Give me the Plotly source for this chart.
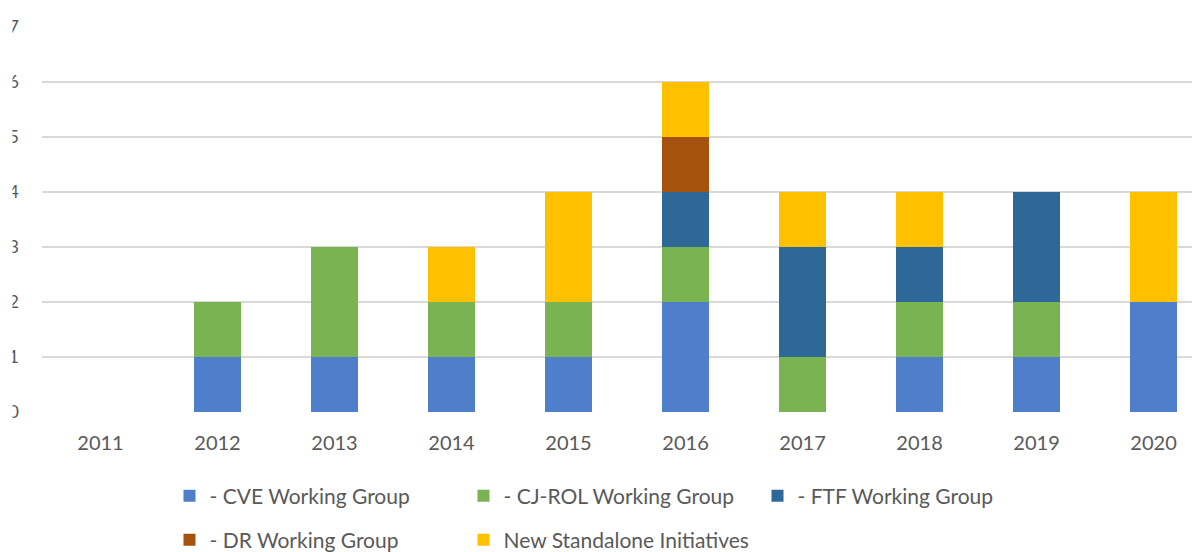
import plotly.graph_objects as go

years = ["2011", "2012", "2013", "2014", "2015", "2016", "2017", "2018", "2019", "2020"]
cve = [0, 1, 1, 1, 1, 2, 0, 1, 1, 2]
cj_rol = [0, 1, 2, 1, 1, 1, 1, 1, 1, 0]
ftf = [0, 0, 0, 0, 0, 1, 2, 1, 2, 0]
dr = [0, 0, 0, 0, 0, 1, 0, 0, 0, 0]
standalone = [0, 0, 0, 1, 2, 1, 1, 1, 0, 2]
y_ticks = [0, 1, 2, 3, 4, 5, 6, 7]

series = [
    ("- CVE Working Group", cve, "#4F7FCA", "legend"),
    ("- CJ-ROL Working Group", cj_rol, "#7AB351", "legend"),
    ("- FTF Working Group", ftf, "#2E6898", "legend"),
    ("- DR Working Group", dr, "#A5520F", "legend2"),
    ("New Standalone Initiatives", standalone, "#FFC000", "legend2"),
]

FONT = "Lato"
GREY = "#595959"

fig = go.Figure()
for name, vals, color, leg in series:
    fig.add_trace(go.Bar(
        x=years, y=vals, name=name, marker=dict(color=color, line=dict(width=0)),
        width=0.4, legend=leg,
    ))

# page body has an 8px margin; figure is sized to end at the window edge
W, H = 1192, 544
ml, mt, mb = 34, 19, 140
PW = W - ml

fig.update_layout(
    width=W, height=H, barmode="stack",
    margin=dict(l=ml, r=0, t=mt, b=mb, autoexpand=False),
    plot_bgcolor="white", paper_bgcolor="white",
    font=dict(family=FONT, color=GREY, size=20),
    xaxis=dict(
        type="category", range=[-0.5, 9.397], showgrid=False, showline=False,
        zeroline=False, ticks="", tickfont=dict(size=20, color=GREY),
        ticklabelstandoff=17,
    ),
    yaxis=dict(
        range=[0, 7], tickvals=y_ticks, showgrid=True, gridcolor="#D9D9D9",
        gridwidth=1.5, zeroline=False, showline=False, ticks="",
        tickfont=dict(size=18, color=GREY), ticklabelstandoff=22,
    ),
    legend=dict(
        orientation="h", xref="container", yref="container",
        x=161.5 / W, y=1 - 488 / H, xanchor="left", yanchor="middle",
        entrywidth=249, font=dict(size=21, color=GREY), traceorder="normal",
    ),
    legend2=dict(
        orientation="h", xref="container", yref="container",
        x=161.5 / W, y=1 - 532 / H, xanchor="left", yanchor="middle",
        entrywidth=249, font=dict(size=21, color=GREY), traceorder="normal",
    ),
    shapes=[dict(
        type="rect", xref="paper", yref="paper",
        x0=-ml / PW, x1=(4.5 - ml) / PW, y0=-0.02, y1=1.05,
        fillcolor="white", line=dict(width=0), layer="above",
    )],
    bargap=0.6,
)

fig.write_html("out.html")
